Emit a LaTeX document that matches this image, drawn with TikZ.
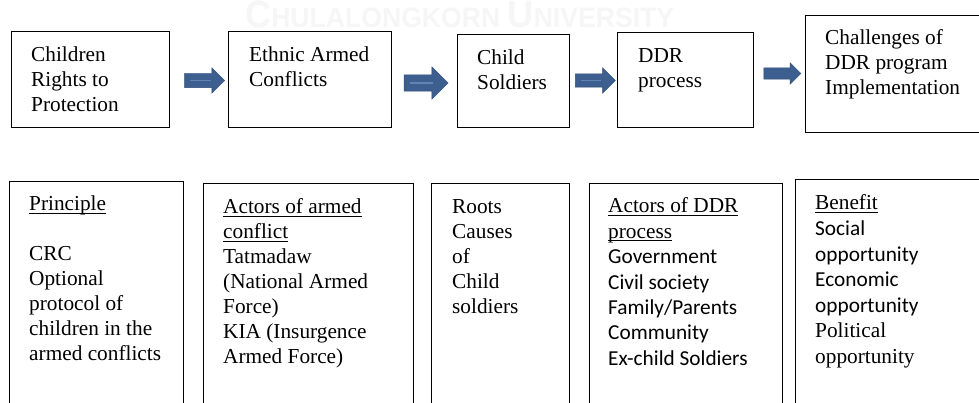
\documentclass[tikz,border=0pt]{standalone}
\usepackage{fontspec}
\setmainfont{Liberation Serif}
\newfontfamily\calibfont{Carlito}
\newfontfamily\wmfont{Liberation Sans}
\usetikzlibrary{shapes.arrows}
\definecolor{arrowblue}{RGB}{61,95,143}
\definecolor{arrowedge}{RGB}{47,76,118}
\definecolor{arrowlight}{RGB}{96,132,182}
\definecolor{wmgray}{RGB}{246,246,246}
\newcommand\myul[1]{\setbox0\hbox{#1}\rlap{\rule[-2.6pt]{\wd0}{0.8pt}}\box0}
\newcommand\mylines[2]{{\fontsize{21.3}{#1}\selectfont\begin{tabular}[t]{@{}l@{}}#2\end{tabular}}}
\tikzset{
  box/.style={draw=black, line width=1pt, inner sep=0pt, fill=none},
  txt/.style={anchor=base west, inner sep=0pt},
  flowarrow/.style={single arrow, fill=arrowblue, draw=arrowedge, line width=0.4pt,
    inner xsep=0pt, text height=0pt, text depth=0pt, single arrow tip angle=90},
  hilite/.style={draw=arrowlight, line width=1.2pt},
}
\begin{document}
\begin{tikzpicture}[x=1pt,y=-1pt]
\useasboundingbox (0,0) rectangle (979,403);
\clip (0,0) rectangle (979,403);
\fill[white] (0,0) rectangle (979,403);
% watermark
\node[txt, text=wmgray, font=\wmfont\bfseries] (wm) at (245,28)
  {\scalebox{0.95}[1]{\fontsize{38}{38}\selectfont C\fontsize{28}{28}\selectfont HULALONGKORN\ \fontsize{38}{38}\selectfont U\fontsize{28}{28}\selectfont NIVERSITY}};
% top boxes
\node[box, minimum width=158, minimum height=96] (t1) at (90,80) {};
\node[box, minimum width=163, minimum height=96] (t2) at (309.5,80) {};
\node[box, minimum width=112, minimum height=93] (t3) at (513,81.5) {};
\node[box, minimum width=136, minimum height=95] (t4) at (685,80.5) {};
\node[box, minimum width=195, minimum height=117] (t5) at (902.5,74.5) {};
\node[txt] (t1x) at (31,62) {\mylines{25}{Children\\Rights to\\Protection}};
\node[txt] (t2x) at (249,62) {\mylines{25}{Ethnic Armed\\Conflicts}};
\node[txt] (t3x) at (477,65) {\mylines{25}{Child\\Soldiers}};
\node[txt] (t4x) at (638,63) {\mylines{24.5}{DDR\\process}};
\node[txt] (t5x) at (825,45) {\mylines{25}{Challenges of\\DDR program\\Implementation}};
% arrows
\node[flowarrow, minimum height=40, inner ysep=7, single arrow head extend=5.5] (a1) at (201,80.5) {};
\node[flowarrow, minimum height=44, inner ysep=8, single arrow head extend=8] (a2) at (422,83) {};
\node[flowarrow, minimum height=40, inner ysep=6.5, single arrow head extend=6] (a3) at (592,80.5) {};
\node[flowarrow, minimum height=37, inner ysep=5.5, single arrow head extend=5] (a4) at (779.5,73.5) {};
\draw[hilite] ([xshift=6pt]a1.west) -- ([xshift=27pt]a1.west);
\draw[hilite] ([xshift=6pt]a2.west) -- ([xshift=29pt]a2.west);
\draw[hilite] ([xshift=6pt]a3.west) -- ([xshift=26pt]a3.west);
% bottom boxes
\node[box, minimum width=174, minimum height=248] (b1) at (96,306) {};
\node[box, minimum width=210, minimum height=246] (b2) at (308,307) {};
\node[box, minimum width=138, minimum height=246] (b3) at (500,307) {};
\node[box, minimum width=193, minimum height=246] (b4) at (685.5,307) {};
\node[box, minimum width=205, minimum height=250] (b5) at (897.5,305) {};
\node[txt] (b1x) at (29,211) {\mylines{25}{\myul{Principle}\\ \\CRC\\Optional\\protocol of\\children in the\\armed conflicts}};
\node[txt] (b2x) at (223,214) {\mylines{25}{\myul{Actors of armed}\\\myul{conflict}\\Tatmadaw\\(National Armed\\Force)\\KIA (Insurgence\\Armed Force)}};
\node[txt] (b3x) at (452,214) {\mylines{25}{Roots\\Causes\\of\\Child\\soldiers}};
\node[txt] (b4x) at (608,213) {\mylines{25.4}{\myul{Actors of DDR}\\\myul{process}\\{\calibfont Government}\\{\calibfont Civil society}\\{\calibfont Family/Parents}\\{\calibfont Community}\\{\calibfont Ex-child Soldiers}}};
\node[txt] (b5x) at (815,210) {\mylines{25.6}{\myul{Benefit}\\{\calibfont Social}\\{\calibfont opportunity}\\{\calibfont Economic}\\{\calibfont opportunity}\\Political\\opportunity}};
\end{tikzpicture}
\end{document}
